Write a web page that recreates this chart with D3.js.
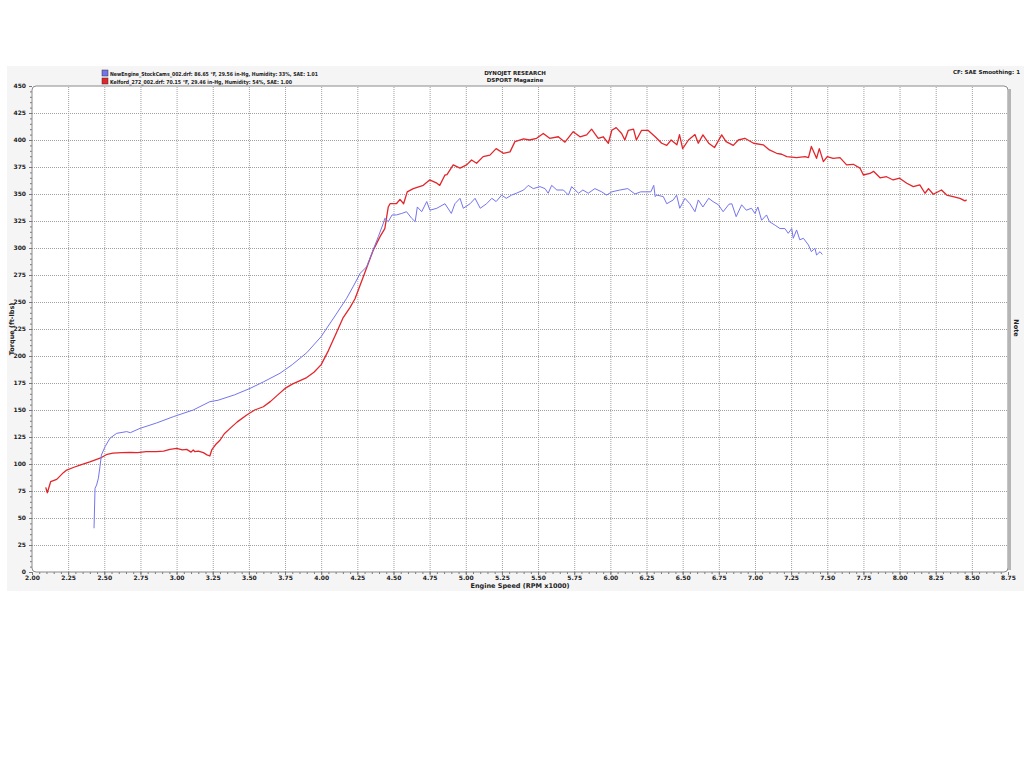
<!DOCTYPE html>
<html><head><meta charset="utf-8">
<script src="https://cdnjs.cloudflare.com/ajax/libs/d3/7.8.5/d3.min.js"></script>
<style>
html,body{margin:0;padding:0;background:#fff;}
svg{display:block;}
text{font-family:"DejaVu Sans",Verdana,sans-serif;font-weight:bold;fill:#222;}
</style></head>
<body>
<svg id="chart" width="1024" height="768"></svg>
<script>
// ---- data ----
const redRpm = [2.095,2.106,2.129,2.171,2.217,2.24,2.29,2.332,2.40,2.48,2.52,2.56,2.62,2.678,2.73,2.79,2.86,2.91,2.954,3.0,3.04,3.07,3.10,3.115,3.127,3.15,3.185,3.21,3.23,3.243,3.27,3.30,3.33,3.37,3.42,3.485,3.54,3.60,3.65,3.70,3.75,3.80,3.85,3.90,3.95,4.00,4.05,4.10,4.15,4.20,4.234,4.29,4.36,4.407,4.44,4.464,4.476,4.52,4.545,4.57,4.595,4.637,4.706,4.75,4.80,4.82,4.856,4.87,4.913,4.96,5.006,5.04,5.075,5.12,5.167,5.21,5.26,5.306,5.34,5.40,5.44,5.49,5.536,5.58,5.64,5.686,5.743,5.79,5.836,5.87,5.916,5.95,5.986,6.01,6.04,6.078,6.10,6.124,6.16,6.18,6.216,6.26,6.31,6.355,6.39,6.42,6.46,6.478,6.50,6.54,6.585,6.608,6.64,6.68,6.72,6.77,6.80,6.85,6.885,6.93,6.99,7.057,7.10,7.15,7.185,7.22,7.288,7.346,7.37,7.39,7.426,7.445,7.473,7.50,7.54,7.588,7.634,7.68,7.726,7.75,7.795,7.82,7.865,7.91,7.956,8.00,8.05,8.095,8.14,8.176,8.2,8.233,8.29,8.326,8.37,8.418,8.452,8.464];
const redTorque = [78.4,73.4,83.6,85.8,92,94.4,97,99,102,106,109,110,110.5,110.8,110.5,111.4,111.4,112,113.6,114.5,113,113.5,111,113,111.4,112,110.5,108.5,107.4,113,118,122,128,133,139,145.4,150,153,158,164,170,174,177,180,185,192,205,220,235,245,253,273,298,310.5,318,338,341,341,345,341,352,355,358,363,360,358,367.6,368,377,374,377,381.5,378.5,384.6,386,392,387.7,389,398.5,401,400,401.6,406,401.6,403,398,407.7,403,404.7,410,401.6,403,397,409,411.5,406,400,409,410,400,409,409,403,397,395,400,395.5,405,392,400,405,397,404.7,397,393,404.7,398.5,395,400,401.6,397,395.5,390.8,387.7,386.8,384.6,383.7,384.6,383.7,394,383,392,380,384.6,383,383.7,377,377.5,374,367.6,369,371,365,366,363,364.6,360,356.8,358.4,350.7,355,349.8,353.7,349,347.6,346,343.6,344.5];

const blueRpm = [2.429,2.436,2.447,2.459,2.47,2.48,2.505,2.54,2.586,2.655,2.68,2.747,2.862,2.977,3.115,3.23,3.286,3.40,3.508,3.60,3.715,3.80,3.90,4.00,4.10,4.176,4.22,4.27,4.315,4.35,4.395,4.43,4.44,4.464,4.49,4.52,4.557,4.59,4.626,4.65,4.665,4.695,4.73,4.752,4.80,4.856,4.90,4.925,4.96,4.983,5.03,5.064,5.10,5.144,5.18,5.21,5.248,5.28,5.317,5.35,5.40,5.432,5.467,5.513,5.548,5.57,5.594,5.63,5.675,5.71,5.732,5.78,5.81,5.847,5.893,5.94,5.974,6.01,6.066,6.12,6.17,6.21,6.28,6.30,6.31,6.32,6.366,6.39,6.435,6.458,6.48,6.516,6.55,6.585,6.608,6.64,6.68,6.71,6.747,6.78,6.82,6.84,6.87,6.908,6.94,6.976,7.00,7.02,7.046,7.08,7.10,7.14,7.173,7.207,7.23,7.254,7.265,7.288,7.31,7.335,7.37,7.39,7.415,7.426,7.45,7.466];
const blueTorque = [40.5,77.5,80.6,86.8,97.5,108.3,116,124,128.4,130,129,133,138,143.8,150,157.7,159,164,170,176,184,192,203,218,238,253.4,264,276.6,282.7,295,310.5,323,327.5,324.4,330.6,330.6,332,333.6,327.5,324.4,338,333.6,343,335,336.8,341,332,341,346,336.8,341,346,336.8,341,346,343,349,346,349,350.7,353.7,358,355,356.8,355,350.7,358,353.7,353.7,349,356.8,350.7,353.7,350.7,355,352,349,352,353.7,355,350,352,352,358,347.6,349,347.6,341,344.5,349,336.8,346,341,333.6,344.5,338,346,343,340,333.6,340.5,341,329,340,335,336.8,332,338,325.7,330.6,324.4,321,318,318,313.6,318,309,316.7,307.6,309,302.8,296.6,299.8,293.5,296.6,294];

const xTicks = [2.00,2.25,2.50,2.75,3.00,3.25,3.50,3.75,4.00,4.25,4.50,4.75,5.00,5.25,5.50,5.75,6.00,6.25,6.50,6.75,7.00,7.25,7.50,7.75,8.00,8.25,8.50,8.75];
const yTicks = [0,25,50,75,100,125,150,175,200,225,250,275,300,325,350,375,400,425,450];
const legendLabels = ["NewEngine_StockCams_002.drf: 86.65 °F, 29.56 in-Hg, Humidity: 33%, SAE: 1.01",
                      "Kelford_272_002.drf: 70.15 °F, 29.46 in-Hg, Humidity: 54%, SAE: 1.00"];
const seriesColors = ["#7474ee","#e3262b"];
const titleLines = ["DYNOJET RESEARCH","DSPORT Magazine"];
const cfLabel = "CF: SAE  Smoothing: 1";
const xTitle = "Engine Speed (RPM x1000)";
const yTitle = "Torque (ft-lbs)";
const rightTitle = "Note";

// ---- layout ----
const svg = d3.select("#chart");
const L = 32, R = 1008, T = 86, B = 572;
const x = d3.scaleLinear().domain([2, 8.75]).range([L, R]);
const y = d3.scaleLinear().domain([0, 450]).range([B, T]);

// background panel
svg.append("rect").attr("x",7).attr("y",66).attr("width",1017).attr("height",525).attr("fill","#f5f5f5");
svg.append("rect").attr("x",L).attr("y",T).attr("width",R-L).attr("height",B-T).attr("fill","#fff");

// gridlines
svg.append("g").attr("transform",`translate(0,${B})`)
  .call(d3.axisBottom(x).tickValues(xTicks.slice(1,-1)).tickSize(-(B-T)).tickFormat(""))
  .call(g=>g.select(".domain").remove())
  .call(g=>g.selectAll("line").attr("stroke","#a0a0a0").attr("stroke-dasharray","1,1"));
svg.append("g").attr("transform",`translate(${L},0)`)
  .call(d3.axisLeft(y).tickValues(yTicks.slice(1,-1)).tickSize(-(R-L)).tickFormat(""))
  .call(g=>g.select(".domain").remove())
  .call(g=>g.selectAll("line").attr("stroke","#a0a0a0").attr("stroke-dasharray","1,1"));

// minor ticks
const minorX = d3.range(2, 8.7501, 0.05);
const minorY = d3.range(0, 450.01, 5);
svg.append("g").attr("transform",`translate(0,${B})`)
  .call(d3.axisBottom(x).tickValues(minorX).tickSize(2).tickFormat(""))
  .call(g=>g.select(".domain").remove())
  .call(g=>g.selectAll("line").attr("stroke","#777"));
svg.append("g").attr("transform",`translate(${L},0)`)
  .call(d3.axisLeft(y).tickValues(minorY).tickSize(2).tickFormat(""))
  .call(g=>g.select(".domain").remove())
  .call(g=>g.selectAll("line").attr("stroke","#777"));

// frame
svg.append("rect").attr("x",L).attr("y",T).attr("width",R-L).attr("height",B-T).attr("rx",4)
  .attr("fill","none").attr("stroke","#8a8a8a").attr("stroke-width",1);
svg.append("line").attr("x1",R+1.5).attr("x2",R+1.5).attr("y1",T+3).attr("y2",B-2).attr("stroke","#b5b5b5").attr("stroke-width",3);

// major axes labels
const xAx = svg.append("g").attr("transform",`translate(0,${B})`)
  .call(d3.axisBottom(x).tickValues(xTicks).tickSize(3).tickFormat(d3.format(".2f")));
xAx.select(".domain").remove();
xAx.selectAll("line").attr("stroke","#777");
xAx.selectAll("text").attr("font-size",6).attr("font-family","DejaVu Sans").attr("font-weight","bold").attr("fill","#333").attr("dy","0.4em");
const yAx = svg.append("g").attr("transform",`translate(${L},0)`)
  .call(d3.axisLeft(y).tickValues(yTicks).tickSize(3).tickFormat(d3.format("d")));
yAx.select(".domain").remove();
yAx.selectAll("line").attr("stroke","#777");
yAx.selectAll("text").attr("font-size",6).attr("font-family","DejaVu Sans").attr("font-weight","bold").attr("fill","#333");

// axis titles
svg.append("text").attr("x",520).attr("y",588).attr("text-anchor","middle").attr("font-size",6.5).text(xTitle);
svg.append("text").attr("transform","translate(14,329) rotate(-90)").attr("text-anchor","middle").attr("font-size",6.5).text(yTitle);
svg.append("text").attr("transform","translate(1014,328) rotate(90)").attr("text-anchor","middle").attr("font-size",6.5).text(rightTitle);

// lines
const line = d3.line().x(d=>x(d[0])).y(d=>y(d[1]));
const redData = redRpm.map((r,i)=>[r, redTorque[i]]);
const blueData = blueRpm.map((r,i)=>[r, blueTorque[i]]);
svg.append("path").datum(redData).attr("d",line).attr("fill","none").attr("stroke",seriesColors[1]).attr("stroke-width",1.3).attr("stroke-linejoin","round");
svg.append("path").datum(blueData).attr("d",line).attr("fill","none").attr("stroke",seriesColors[0]).attr("stroke-width",1).attr("stroke-linejoin","round");

// legend
legendLabels.forEach((t,i)=>{
  const yy = 70 + i*8;
  svg.append("rect").attr("x",102).attr("y",yy).attr("width",6).attr("height",6)
    .attr("fill",seriesColors[i]).attr("stroke","#333").attr("stroke-width",0.5);
  svg.append("text").attr("x",110).attr("y",yy+5.5).attr("font-size",5.5)
    .attr("textLength", i===0?208:182).attr("lengthAdjust","spacingAndGlyphs").text(t);
});
titleLines.forEach((t,i)=>{
  svg.append("text").attr("x",515).attr("y",75+i*7).attr("text-anchor","middle").attr("font-size",5.5).text(t);
});
svg.append("text").attr("x",1020).attr("y",74).attr("text-anchor","end").attr("font-size",5.5).text(cfLabel);
</script>
</body></html>
